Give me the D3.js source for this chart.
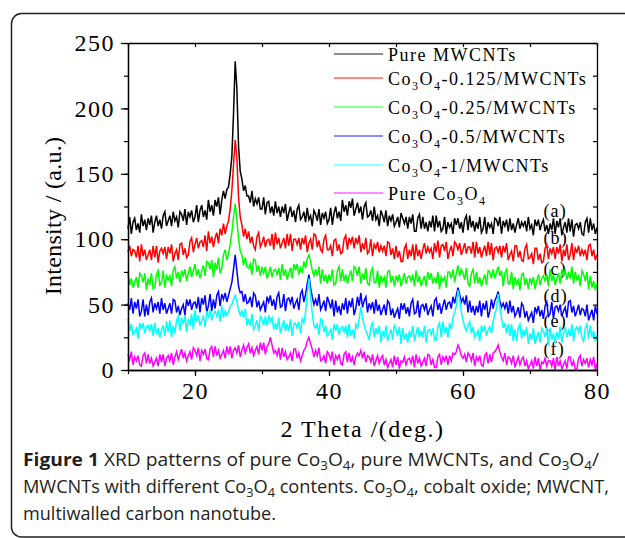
<!DOCTYPE html>
<html><head><meta charset="utf-8">
<script src="https://cdn.jsdelivr.net/npm/d3@7"></script>
<style>body{margin:0;background:#fff} svg{display:block}</style>
</head><body>
<svg id="chart" width="625" height="538"></svg>
<script>
// 2θ grid (degrees), 0.25° step from 10 to 80
const twoTheta = d3.range(281).map(i => 10 + i * 0.25);

// (a) Pure MWCNTs
const pureMWCNTs = [
108,117,104,113, 116,107,112,105, 119,110,115,107, 116,111,118,105, 113,118,110,115,
108,118,121,110, 114,118,110,121, 114,117,109,121, 119,114,123,111, 121,117,122,113,
117,126,113,122, 126,117,122,115, 130,121,126,118, 130,125,132,119, 130,137,131,138,
140,150,163,196, 236,215,171,152, 146,137,141,133, 133,128,137,125, 131,127,132,123,
123,132,119,128, 129,120,125,118, 129,120,125,117, 125,120,127,114, 120,125,117,122,
113,123,126,115, 117,121,113,124, 115,118,110,122, 119,114,123,111, 120,116,121,112,
115,124,111,120, 125,116,121,114, 130,121,126,118, 129,124,131,118, 123,128,120,125,
115,125,128,117, 118,122,114,125, 115,118,110,122, 118,113,122,110, 118,114,119,110,
113,117,109,120, 116,112,117,108, 117,112,119,106, 106,116,119,108, 117,108,113,106,
114,109,118,106, 118,109,114,106, 108,117,104,113, 109,112,104,116, 111,116,108,113,
105,115,118,107, 118,109,114,106, 113,108,117,105, 108,117,104,113, 109,112,104,116,
115,110,117,104, 114,110,115,106, 116,107,112,105, 111,116,108,113, 110,114,106,117,
108,111,103,115, 110,115,107,112, 115,106,111,104, 112,107,116,104, 114,109,116,103,
109,113,105,116, 106,115,102,111, 112,108,113,104, 103,113,116,105, 116,107,112,104,
109];

// (b) Co3O4-0.125/MWCNTs
const co3o4_0125 = [
90,95,87,92, 91,86,95,83, 96,87,92,84, 88,92,84,95, 86,95,82,91,
93,89,94,85, 94,89,96,83, 89,92,84,96, 97,88,93,86, 88,98,101,90,
96,101,93,98, 99,94,103,91, 106,97,102,94, 101,105,97,108, 103,112,104,110,
114,123,137,157, 176,162,132,117, 111,102,108,100, 106,97,102,95, 92,102,105,94,
97,102,94,99, 100,95,104,92, 105,96,101,93, 97,101,93,104, 95,104,91,100,
100,96,101,92, 101,96,103,90, 97,100,92,104, 103,94,99,92, 90,100,103,92,
92,95,87,99, 100,91,96,89, 90,100,103,92, 101,97,102,93, 101,96,103,90,
97,92,101,89, 91,100,87,96, 93,98,90,95, 91,95,87,98, 97,88,93,85,
95,86,91,83, 83,93,96,85, 92,87,96,84, 96,87,92,85, 92,97,89,94,
90,93,85,97, 90,99,86,95, 96,91,98,85, 91,95,87,98, 96,92,97,88,
92,97,89,94, 94,89,98,86, 98,89,94,86, 91,95,87,98, 88,97,84,93,
94,90,95,86, 95,90,97,84, 88,91,83,95, 95,86,91,84, 83,93,96,85,
86,89,81,93, 93,84,89,82, 83,93,96,85, 93,89,94,85, 94,89,96,83,
92,87,96,84, 88,97,84,93, 90,95,87,92, 88,92,84,95, 96,87,92,84,
88];

// (c) Co3O4-0.25/MWCNTs
const co3o4_025 = [
74,65,70,63, 67,71,63,74, 72,67,74,61, 70,65,74,62, 63,73,76,65,
67,76,63,72, 69,72,64,76, 79,70,75,67, 76,72,77,68, 74,79,71,76,
81,72,77,70, 76,80,72,83, 82,77,84,71, 82,77,86,74, 78,88,92,84,
89,96,105,117, 127,115,100,91, 88,80,86,79, 78,81,73,85, 84,75,80,72,
78,74,79,70, 74,79,71,76, 77,73,78,69, 81,72,77,69, 74,78,70,81,
76,81,73,78, 74,83,78,85, 88,83,76,72, 77,72,79,66, 77,68,73,66,
73,68,77,65, 66,76,79,68, 77,68,73,66, 72,76,68,79, 77,72,79,66,
74,69,78,66, 65,75,78,67, 67,76,63,72, 68,71,63,75, 76,67,72,64,
72,68,73,64, 69,74,66,71, 72,68,73,64, 76,67,72,64, 68,72,64,75,
69,74,66,71, 66,75,62,71, 68,71,63,75, 75,70,77,67, 74,80,72,77,
74,69,78,66, 64,74,77,66, 75,66,71,64, 69,73,65,76, 75,70,77,70,
75,79,72,76, 64,74,77,66, 66,75,62,71, 66,69,61,73, 74,65,70,62,
70,66,71,62, 68,73,65,70, 72,68,73,64, 77,68,73,65, 70,74,66,77,
72,77,69,74, 70,79,66,75, 69,72,64,76, 73,68,75,62, 72,63,68,61,
66];

// (d) Co3O4-0.5/MWCNTs
const co3o4_05 = [
51,46,55,43, 52,47,54,41, 45,54,41,50, 42,52,55,44, 51,47,52,43,
55,46,51,43, 47,51,43,54, 53,44,49,42, 47,50,42,54, 49,54,46,51,
52,47,56,44, 55,50,57,44, 49,58,45,54, 47,57,60,49, 58,54,59,52,
57,62,67,77, 88,76,64,59, 60,52,58,51, 52,56,48,59, 57,48,53,46,
49,52,44,56, 52,57,49,54, 46,56,59,48, 49,58,45,54, 55,51,56,47,
51,54,46,58, 61,52,58,66, 73,63,56,50, 54,49,58,46, 49,53,45,56,
52,47,54,41, 53,44,49,42, 51,46,55,43, 53,48,55,42, 47,56,49,59,
48,53,56,44, 51,47,52,43, 54,45,50,42, 46,50,42,53, 51,42,47,40,
44,47,39,51, 46,51,43,48, 41,51,54,43, 44,53,40,49, 50,46,51,42,
46,49,41,53, 55,46,51,43, 49,54,46,51, 52,47,56,51, 57,63,58,52,
55,50,57,44, 53,44,49,42, 49,44,53,41, 51,46,53,40, 45,54,47,53,
56,60,53,48, 51,47,52,43, 53,44,49,41, 44,48,40,51, 49,40,45,38,
41,44,36,48, 44,49,41,46, 39,49,52,41, 43,52,39,48, 49,45,50,41,
45,48,40,52, 53,44,49,41, 45,50,42,47, 46,41,50,38, 42,46,38,49,
43];

// (e) Co3O4-1/MWCNTs
const co3o4_1 = [
39,30,35,27, 29,32,24,36, 31,36,28,33, 34,30,35,26, 36,27,32,25,
30,34,26,37, 29,38,25,34, 28,38,41,30, 40,35,42,29, 39,34,43,31,
46,37,42,34, 38,41,33,45, 41,46,38,43, 45,41,46,37, 49,40,45,42,
44,49,50,54, 57,52,46,42, 45,40,47,34, 39,34,43,31, 34,38,30,41,
39,34,41,34, 42,37,40,31, 36,31,40,28, 33,38,30,35, 30,39,26,35,
36,32,37,28, 39,36,44,58, 70,56,43,34, 32,35,27,39, 38,29,34,26,
28,31,23,35, 30,35,27,32, 33,29,34,25, 35,26,31,24, 35,32,39,48,
40,34,30,27, 23,33,36,25, 32,27,34,21, 30,25,34,22, 27,31,23,34,
31,26,33,20, 32,23,28,21, 30,25,34,22, 28,33,25,30, 25,34,21,30,
31,27,32,23, 23,33,36,25, 37,28,33,25, 36,31,40,44, 49,61,54,44,
38,33,30,34, 37,28,33,25, 27,30,22,34, 29,34,26,31, 33,28,37,43,
47,58,48,40, 32,36,28,35, 26,35,22,31, 22,32,35,24, 31,26,33,20,
28,23,32,20, 25,29,21,32, 30,25,32,19, 32,23,28,21, 29,24,33,21,
28,33,25,30, 26,35,22,31, 33,29,34,25, 22,32,35,24, 34,25,30,22,
26];

// (f) Pure Co3O4
const pureCo3O4 = [
12,8,14,4, 10,7,11,4, 3,11,13,5, 12,5,9,3, 6,9,3,12,
6,12,3,9, 11,7,13,4, 10,14,8,12, 16,9,13,7, 11,14,8,17,
15,11,17,7, 15,12,16,9, 8,16,18,10, 18,11,15,9, 12,15,9,18,
12,18,9,15, 17,13,19,10, 15,19,13,17, 20,13,17,11, 15,18,12,21,
15,21,12,18, 20,25,19,13, 15,11,17,8, 17,10,14,8, 10,13,7,16,
16,9,13,7, 11,15,17,22, 25,20,16,10, 15,11,17,7, 8,11,5,14,
12,8,14,4, 11,8,12,5, 4,12,14,6, 13,6,10,4, 10,13,11,15,
9,14,6,11, 10,6,12,3, 7,11,5,9, 11,4,8,2, 5,8,2,11,
4,10,1,7, 6,10,4,8, 9,5,11,2, 12,5,9,3, 6,9,3,12,
11,4,8,2, 2,10,12,4, 10,7,11,4, 11,7,13,12, 14,19,16,11,
9,12,6,13, 11,7,13,3, 10,7,11,4, 3,11,13,5, 12,6,13,14,
16,19,14,10, 7,13,4,10, 9,5,11,2, 6,10,4,8, 10,3,7,1,
4,7,1,10, 3,9,0,6, 5,9,3,7, 7,3,9,0, 10,3,7,1,
4,7,1,10, 10,3,7,1, 1,9,11,3, 8,5,9,2, 8,4,10,0,
5];

const seriesValues = [pureMWCNTs, co3o4_0125, co3o4_025, co3o4_05, co3o4_1, pureCo3O4];
const seriesNames = ["Pure MWCNTs", "Co_3O_4-0.125/MWCNTs", "Co_3O_4-0.25/MWCNTs",
                     "Co_3O_4-0.5/MWCNTs", "Co_3O_4-1/MWCNTs", "Pure Co_3O_4"];
const seriesColors = ["#000000", "#ff0000", "#00ff00", "#0000ff", "#00ffff", "#ff00ff"];
const seriesLabels = ["(a)", "(b)", "(c)", "(d)", "(e)", "(f)"];
const labelAnchorX = [72, 72, 72, 72, 72, 72];
const labelAnchorY = [117, 96, 73, 52, 33, 11.5];

const xMajorTicks = [20, 40, 60, 80];
const xAllTicks = [10, 20, 30, 40, 50, 60, 70, 80];
const yMajorTicks = [0, 50, 100, 150, 200, 250];
const yAllTicks = [0, 25, 50, 75, 100, 125, 150, 175, 200, 225, 250];

const xTitle = "2 Theta /(deg.)";
const yTitle = "Intensity / (a.u.)";
const captionLines = [
  ["Figure 1", " XRD patterns of pure Co_3O_4, pure MWCNTs, and Co_3O_4/"],
  ["", "MWCNTs with different Co_3O_4 contents. Co_3O_4, cobalt oxide; MWCNT,"],
  ["", "multiwalled carbon nanotube."]
];

// ---------- drawing ----------
const svg = d3.select("#chart");
const serif = "'Liberation Serif', 'Times New Roman', serif";
const L = 128, R = 597, T = 43, B = 370;
const x = d3.scaleLinear().domain([10, 80]).range([L, R]);
const y = d3.scaleLinear().domain([0, 250]).range([B, T]);

function rich(sel, str, subSize, shift) {
  const parts = str.split(/(_\d)/).filter(s => s.length);
  let down = false;
  parts.forEach(p => {
    if (p[0] === "_") {
      sel.append("tspan").attr("font-size", subSize).attr("dy", down ? 0 : shift).text(p[1]);
      down = true;
    } else {
      const t = sel.append("tspan").text(p);
      if (down) { t.attr("dy", -shift); down = false; }
    }
  });
}

// outer rounded frame
svg.append("rect").attr("x", 11.5).attr("y", 13.5).attr("width", 800).attr("height", 523.5)
  .attr("rx", 10).attr("fill", "none").attr("stroke", "#231f20").attr("stroke-width", 1.5);

// series labels (behind curves)
svg.append("g").selectAll("text").data(seriesLabels).join("text")
  .attr("x", (d, i) => x(labelAnchorX[i])).attr("y", (d, i) => y(labelAnchorY[i]))
  .attr("font-family", serif).attr("font-size", 18).attr("letter-spacing", 1.2)
  .attr("fill", "#000").text(d => d);

// curves
const line = d3.line().x((d, i) => x(twoTheta[i])).y(d => y(d));
const gLines = svg.append("g");
seriesValues.forEach((vals, k) => {
  gLines.append("path").datum(vals).attr("d", line)
    .attr("fill", "none").attr("stroke", seriesColors[k]).attr("stroke-width", 1.5)
    .attr("stroke-linejoin", "miter");
});

// axes
function styleAxis(g) {
  g.selectAll("path.domain").attr("stroke", "#000").attr("stroke-width", 1.3);
  g.selectAll(".tick line").attr("stroke", "#000").attr("stroke-width", 1.2);
  g.selectAll("text").attr("font-family", serif).attr("font-size", 24)
    .attr("letter-spacing", 1.5).attr("fill", "#000");
}
svg.append("g").attr("transform", `translate(0,${B})`)
  .call(d3.axisBottom(x).tickValues(xAllTicks).tickSize(4).tickFormat("").tickSizeOuter(0)).call(styleAxis);
svg.append("g").attr("transform", `translate(0,${B})`)
  .call(d3.axisBottom(x).tickValues(xMajorTicks).tickSize(6).tickPadding(6).tickSizeOuter(0)).call(styleAxis);
svg.append("g").attr("transform", `translate(0,${T})`)
  .call(d3.axisTop(x).tickValues(xAllTicks).tickSize(-4).tickFormat("").tickSizeOuter(0)).call(styleAxis);
svg.append("g").attr("transform", `translate(${L},0)`)
  .call(d3.axisLeft(y).tickValues(yAllTicks).tickSize(4).tickFormat("").tickSizeOuter(0)).call(styleAxis);
svg.append("g").attr("transform", `translate(${L},0)`)
  .call(d3.axisLeft(y).tickValues(yMajorTicks).tickSize(7).tickPadding(6).tickSizeOuter(0)).call(styleAxis);
svg.append("g").attr("transform", `translate(${R},0)`)
  .call(d3.axisRight(y).tickValues(yAllTicks).tickSize(-4).tickFormat("").tickSizeOuter(0)).call(styleAxis);

// axis titles
svg.append("text").attr("x", (L + R) / 2).attr("y", 437).attr("text-anchor", "middle")
  .attr("font-family", serif).attr("font-size", 24).attr("letter-spacing", 1.5).text(xTitle);
svg.append("text").attr("transform", "translate(61,216) rotate(-90)").attr("text-anchor", "middle")
  .attr("font-family", serif).attr("font-size", 24).attr("letter-spacing", 0.3).text(yTitle);

// legend
const legendLineY = [54, 78, 107, 136, 165, 193];
const lg = svg.append("g");
seriesNames.forEach((name, k) => {
  const yy = legendLineY[k];
  lg.append("line").attr("x1", 334).attr("x2", 383).attr("y1", yy).attr("y2", yy)
    .attr("stroke", seriesColors[k]).attr("stroke-width", 1.6).attr("opacity", 0.6);
  const t = lg.append("text").attr("x", 388).attr("y", yy + 6.5)
    .attr("font-family", serif).attr("font-size", 18).attr("letter-spacing", 1.5).attr("fill", "#000");
  rich(t, name, 12, 5);
});

// caption
const capFont = "'Open Sans','Noto Sans',sans-serif";
const capY = [466, 493, 520];
const capWidths = [576, 586, 253];
captionLines.forEach((ln, i) => {
  const t = svg.append("text").attr("x", 23).attr("y", capY[i])
    .attr("font-family", capFont).attr("font-size", 18).attr("fill", "#231f20");
  if (ln[0]) t.append("tspan").attr("font-weight", "bold").text(ln[0]);
  rich(t, ln[1], 12.5, 4);
  t.attr("textLength", capWidths[i]).attr("lengthAdjust", "spacingAndGlyphs");
});
</script>
</body></html>
